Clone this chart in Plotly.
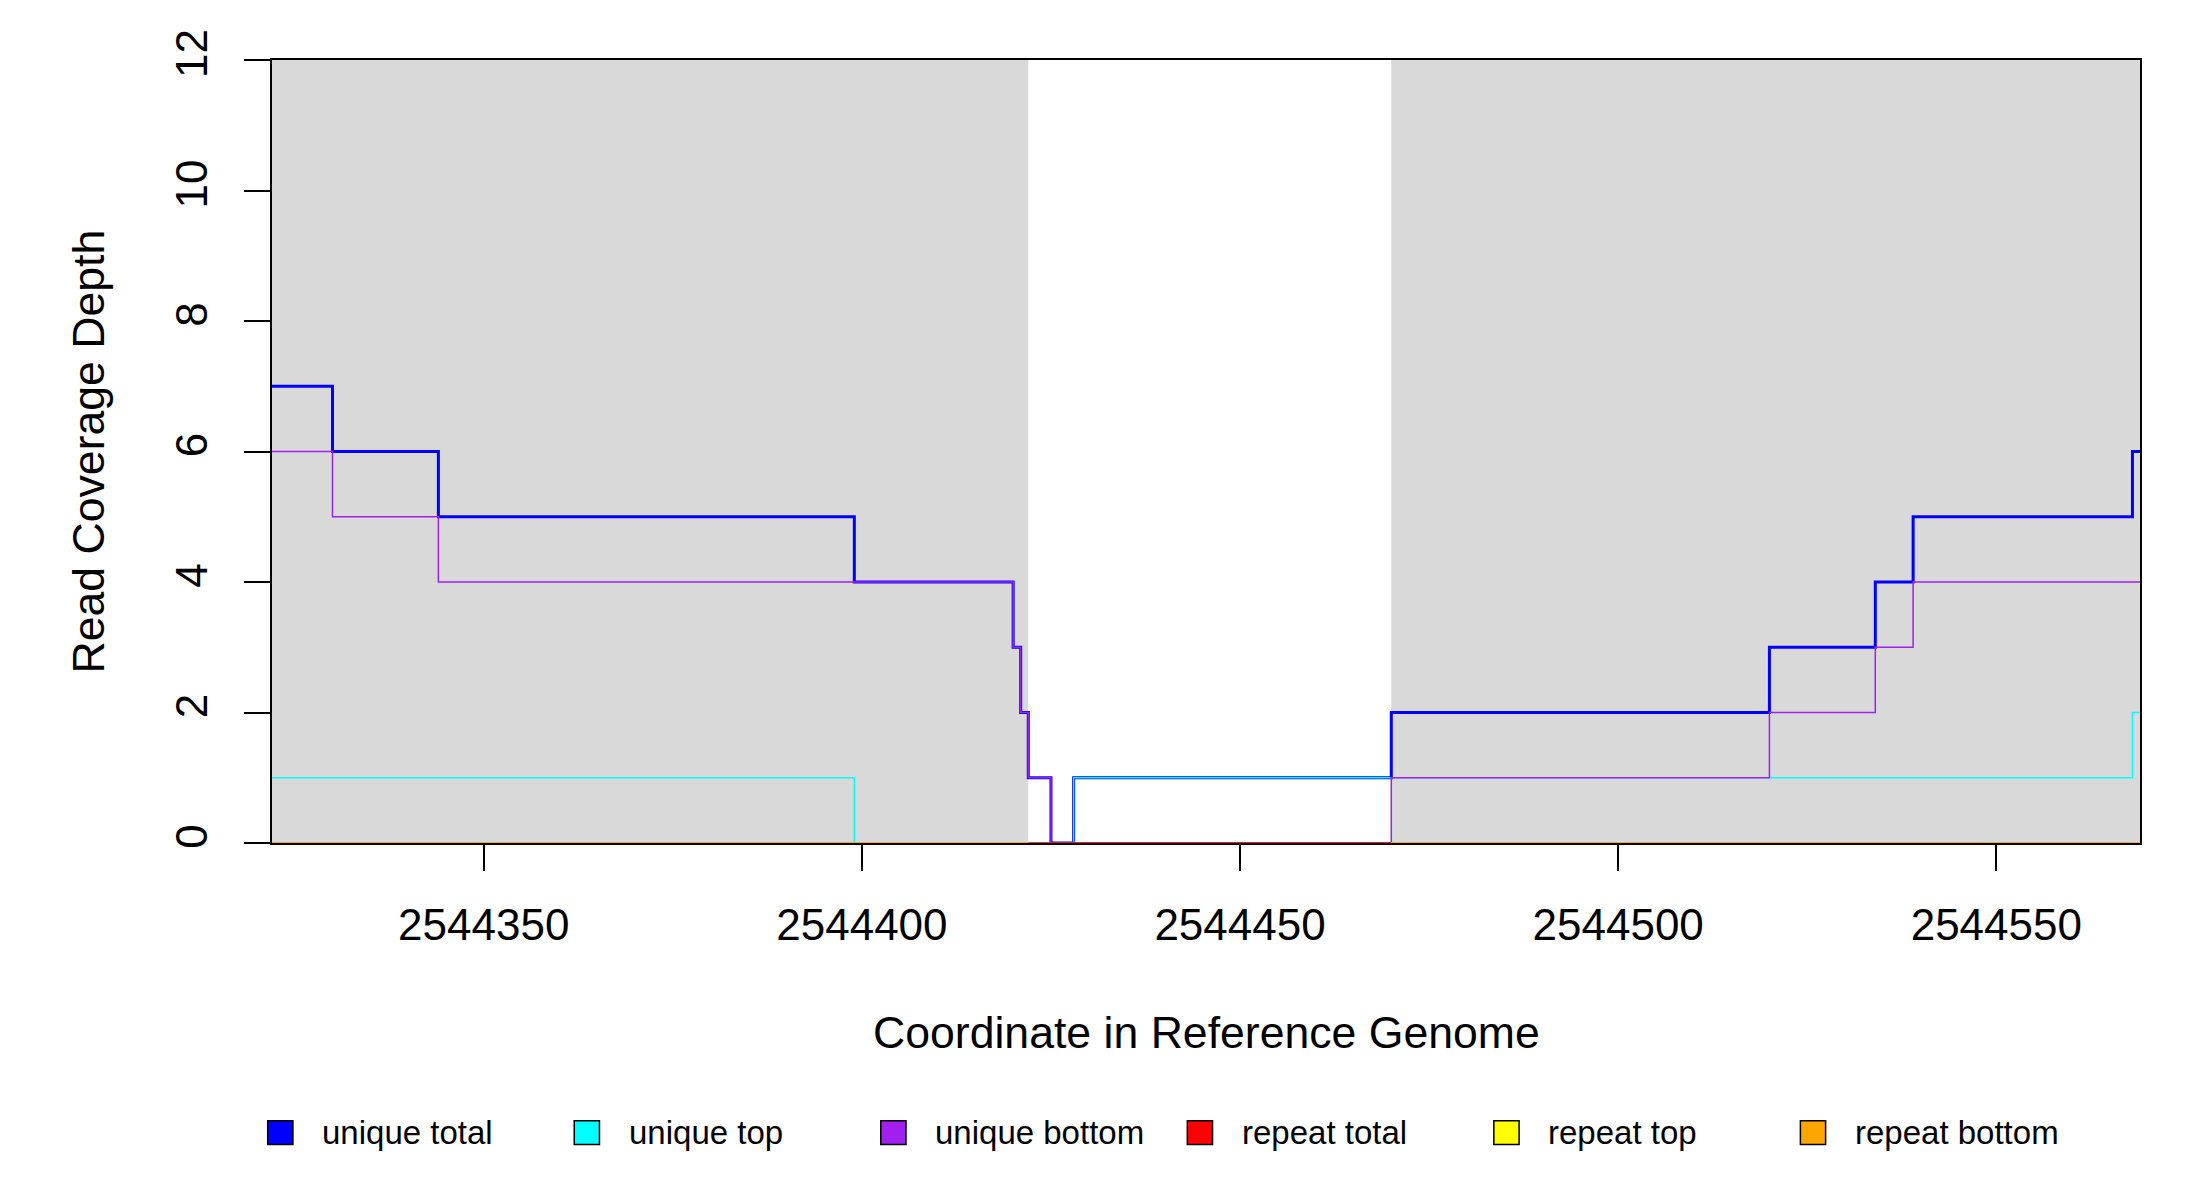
import plotly.graph_objects as go

# coverage steps (x = start of each step, last point closes the line)
unique_total_x = [2544322, 2544330, 2544344, 2544399, 2544420, 2544421, 2544422, 2544425,
                  2544428, 2544470, 2544520, 2544534, 2544539, 2544568, 2544569]
unique_total_y = [7, 6, 5, 4, 3, 2, 1, 0, 1, 2, 3, 4, 5, 6, 6]

unique_top_x = [2544322, 2544399, 2544428, 2544568, 2544569]
unique_top_y = [1, 0, 1, 2, 2]

unique_bottom_x = [2544322, 2544330, 2544344, 2544420, 2544421, 2544422, 2544425,
                   2544470, 2544520, 2544534, 2544539, 2544569]
unique_bottom_y = [6, 5, 4, 3, 2, 1, 0, 1, 2, 3, 4, 4]

repeat_total_x = [2544322, 2544569]
repeat_total_y = [0, 0]
repeat_top_x = [2544322, 2544422, None, 2544470, 2544569]
repeat_top_y = [0, 0, None, 0, 0]
repeat_bottom_x = [2544322, 2544422, None, 2544470, 2544569]
repeat_bottom_y = [0, 0, None, 0, 0]

# shaded exon regions
exon_starts = [2544322, 2544470]
exon_ends = [2544422, 2544569]

x_ticks = [2544350, 2544400, 2544450, 2544500, 2544550]
y_ticks = [0, 2, 4, 6, 8, 10, 12]

legend_names = ["unique total", "unique top", "unique bottom",
                "repeat total", "repeat top", "repeat bottom"]
legend_colors = ["#0000FF", "#00FFFF", "#A020F0", "#FF0000", "#FFFF00", "#FFA500"]

FONT = "Liberation Sans, Arial, sans-serif"

fig = go.Figure()

series = [
    (unique_total_x, unique_total_y, "#0000FF", 3),
    (unique_top_x, unique_top_y, "#00FFFF", 1.5),
    (unique_bottom_x, unique_bottom_y, "#A020F0", 1.5),
    (repeat_total_x, repeat_total_y, "#FF0000", 1.5),
    (repeat_top_x, repeat_top_y, "#FFFF00", 1.5),
    (repeat_bottom_x, repeat_bottom_y, "#FFA500", 1.5),
]
for (xs, ys, col, w), name in zip(series, legend_names):
    fig.add_trace(go.Scatter(
        x=xs, y=ys, mode="lines", name=name,
        line=dict(color=col, width=w, shape="hv"),
        showlegend=False, hoverinfo="skip"
    ))

for s, e in zip(exon_starts, exon_ends):
    fig.add_shape(type="rect", xref="x", yref="y", x0=s, x1=e, y0=0, y1=12,
                  fillcolor="#D9D9D9", line=dict(width=0), layer="below")

# R-style legend below the plot: filled boxes + labels (paper coords)
leg_x0, leg_step, box_w = -0.0023, 0.1641, 0.0135
leg_y, box_h = -0.370, 0.0152
annotations = []
for i, (name, col) in enumerate(zip(legend_names, legend_colors)):
    bx = leg_x0 + i * leg_step
    fig.add_shape(type="rect", xref="paper", yref="paper",
                  x0=bx, x1=bx + box_w, y0=leg_y - box_h, y1=leg_y + box_h,
                  fillcolor=col, line=dict(color="black", width=1.5))
    annotations.append(dict(text=name, xref="paper", yref="paper",
                            x=bx + 0.028, y=leg_y, xanchor="left", yanchor="middle",
                            showarrow=False, font=dict(size=33, family=FONT)))

annotations += [
    dict(text="Coordinate in Reference Genome", xref="paper", yref="paper",
         x=0.5, y=-0.242, xanchor="center", yanchor="middle", showarrow=False,
         font=dict(size=44.6, family=FONT)),
    dict(text="Read Coverage Depth", xref="paper", yref="paper",
         x=-0.098, y=0.5, xanchor="center", yanchor="middle", showarrow=False,
         textangle=-90, font=dict(size=44.6, family=FONT)),
]

fig.update_layout(
    width=2200, height=1200,
    paper_bgcolor="white", plot_bgcolor="white",
    margin=dict(l=264, r=68, t=52, b=365),
    font=dict(family=FONT, color="black"),
    showlegend=False,
    annotations=annotations,
)

fig.update_xaxes(
    range=[2544322, 2544569], tickvals=x_ticks, ticktext=[str(v) for v in x_ticks],
    ticks="outside", ticklen=26, tickwidth=2, tickcolor="black",
    tickfont=dict(size=44, family=FONT), showgrid=False, zeroline=False,
    showline=True, linecolor="black", linewidth=1.5, mirror=True,
    ticklabelstandoff=16
)
fig.update_yaxes(
    range=[0, 12], tickvals=y_ticks, ticktext=[str(v) for v in y_ticks],
    ticks="outside", ticklen=26, tickwidth=2, tickcolor="black",
    tickfont=dict(size=44, family=FONT), tickangle=-90, showgrid=False, zeroline=False,
    showline=True, linecolor="black", linewidth=1.5, mirror=True,
    ticklabelstandoff=20
)

fig.write_html("out.html")
